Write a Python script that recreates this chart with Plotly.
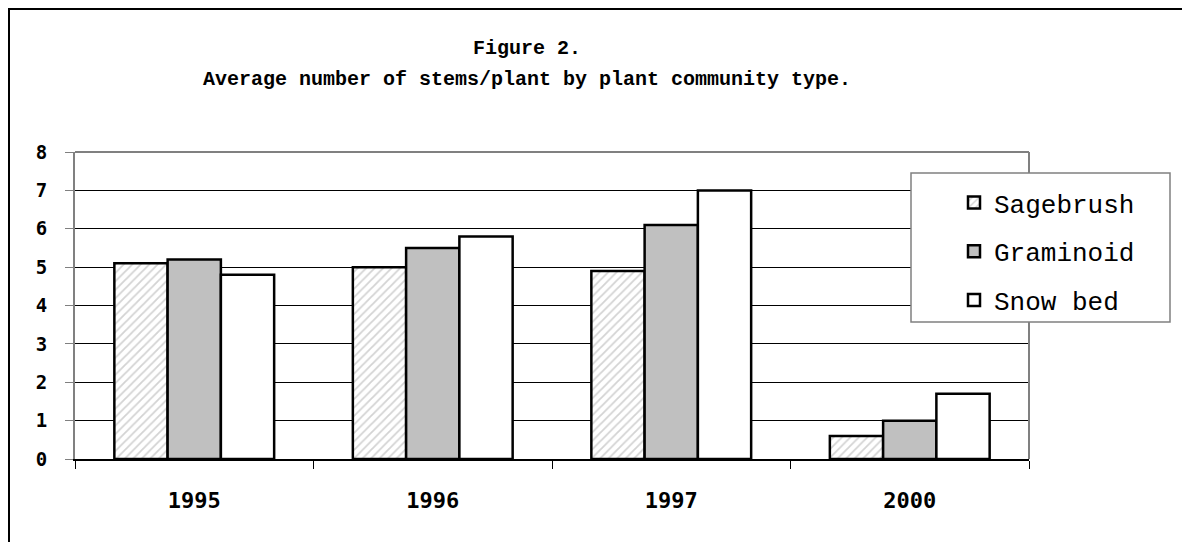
import plotly.graph_objects as go

years = ["1995", "1996", "1997", "2000"]
series_names = ["Sagebrush", "Graminoid", "Snow bed"]
sagebrush = [5.1, 5.0, 4.9, 0.6]
graminoid = [5.2, 5.5, 6.1, 1.0]
snow_bed = [4.8, 5.8, 7.0, 1.7]
y_ticks = [0, 1, 2, 3, 4, 5, 6, 7, 8]

OFF = 8  # page body margin
W, H = 1190 - OFF, 542 - OFF
# plot area in reference pixel coords
PX0, PX1, PY0, PY1 = 75, 1029, 152, 459
L, R, T, B = PX0 - OFF, W - (PX1 - OFF), PY0 - OFF, H - (PY1 - OFF)
pw, ph = PX1 - PX0, PY1 - PY0

fig = go.Figure()
styles = [
    dict(color="white", pattern=dict(shape="/", fgcolor="#a8a8a8", bgcolor="white", size=6, solidity=0.3)),
    dict(color="#c0c0c0"),
    dict(color="white"),
]
for name, vals, st in zip(series_names, [sagebrush, graminoid, snow_bed], styles):
    marker = dict(line=dict(color="black", width=2.5))
    marker.update(st)
    fig.add_trace(go.Bar(x=years, y=vals, name=name, marker=marker, legendgroup=name))

def px(x):
    return (x - PX0) / pw

def py(y):
    return (PY1 - y) / ph

# outer chart border
fig.add_shape(type="rect", xref="paper", yref="paper",
              x0=px(9), x1=px(1215), y0=py(9), y1=py(570),
              line=dict(color="black", width=2), fillcolor="rgba(0,0,0,0)", layer="above")
# plot-area border (right and top)
fig.add_shape(type="line", xref="paper", yref="paper", x0=1, x1=1, y0=0, y1=1,
              line=dict(color="#808080", width=2), layer="above")
fig.add_shape(type="line", xref="paper", yref="paper", x0=0, x1=1, y0=1, y1=1,
              line=dict(color="#808080", width=2), layer="above")
# legend box
fig.add_shape(type="rect", xref="paper", yref="paper",
              x0=px(911), x1=px(1170), y0=py(173), y1=py(322),
              line=dict(color="#808080", width=1.5), fillcolor="white", layer="above")

fig.add_annotation(text="<b>Figure 2.</b>", xref="paper", yref="paper",
                   x=px(527), y=py(48), xanchor="center", yanchor="middle", showarrow=False,
                   font=dict(family="Liberation Mono", size=20, color="black"))
fig.add_annotation(text="<b>Average number of stems/plant by plant community type.</b>",
                   xref="paper", yref="paper",
                   x=px(527), y=py(80), xanchor="center", yanchor="middle", showarrow=False,
                   font=dict(family="Liberation Mono", size=20, color="black"))

fig.update_layout(
    width=W, height=H,
    margin=dict(l=L, r=R, t=T, b=B),
    paper_bgcolor="white", plot_bgcolor="white",
    bargap=0.33, bargroupgap=0,
    font=dict(family="Liberation Mono", color="black"),
    legend=dict(
        x=px(954), xanchor="left", y=py(179), yanchor="top",
        bgcolor="rgba(0,0,0,0)", borderwidth=0,
        font=dict(family="Liberation Mono", size=26, color="black"),
        tracegroupgap=12, itemwidth=30,
    ),
    xaxis=dict(
        type="category", tickson="boundaries", ticks="outside", ticklen=8,
        tickcolor="black", showline=True, linecolor="black", linewidth=1.5,
        mirror=False, showgrid=False,
        tickfont=dict(family="DejaVu Sans Mono", size=22, color="black", weight="bold"),
        ticklabelstandoff=21,
    ),
    yaxis=dict(
        range=[0, 8], tickvals=y_ticks, ticks="outside", ticklen=8, tickcolor="#808080",
        showline=True, linecolor="#808080", linewidth=2, mirror=False,
        showgrid=True, gridcolor="black", gridwidth=1, zeroline=False,
        tickfont=dict(family="DejaVu Sans Mono", size=19, color="black", weight="bold"),
        ticklabelstandoff=14,
    ),
)

fig.write_html("out.html")
